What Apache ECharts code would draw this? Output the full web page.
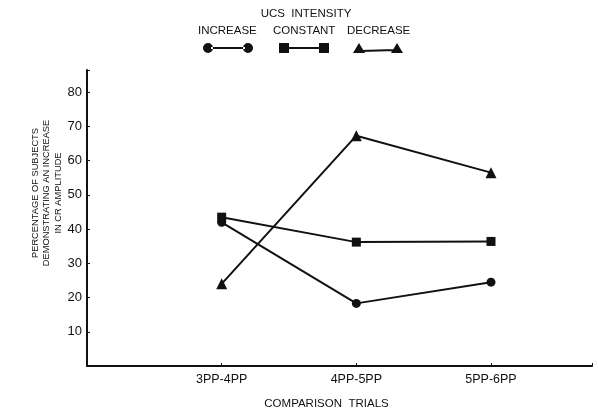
<!DOCTYPE html>
<html>
<head>
<meta charset="utf-8">
<script src="https://cdn.jsdelivr.net/npm/echarts@6/dist/echarts.min.js"></script>
<style>
html,body{margin:0;padding:0;background:#fff}
#main{width:598px;height:411px}
</style>
</head>
<body>
<div id="main"></div>
<script>
// categories and values
var trials = ['3PP-4PP', '4PP-5PP', '5PP-6PP'];
var seriesNames = ['INCREASE', 'CONSTANT', 'DECREASE'];
var increase = [42, 18.3, 24.5];
var constant = [43.5, 36.2, 36.4];
var decrease = [24, 67.3, 56.5];
var yTicks = [10, 20, 30, 40, 50, 60, 70, 80];

var font = 'Liberation Sans';
var ink = '#111';

// icon shapes: symbol - line - symbol
var icons = [
    'path://M0,5a5,5 0 1,0 10,0a5,5 0 1,0 -10,0ZM40,5a5,5 0 1,0 10,0a5,5 0 1,0 -10,0ZM8,4L42,4L42,6L8,6Z',
    'path://M0,0L10,0L10,10L0,10ZM40,0L50,0L50,10L40,10ZM10,4L40,4L40,6L10,6Z',
    'path://M0,10L6,0L12,10ZM38,10L44,0L50,10ZM8,7L42,6L42,8L8,9Z'
];
var symbols = ['circle', 'rect', 'triangle'];
var symbolSizes = [9, 9, 11];
var legendLeft = [203, 279, 353];
var labelLeft = [198, 273, 347];

//把序号当作x坐标
function toPoints(vals){
    var arr = [];
    vals.forEach(function(v, i){
        arr.push([i + 1, v]);
    });
    return arr;
}

var allData = [increase, constant, decrease];

var legends = [];
var series = [];
var labels = [];
seriesNames.forEach(function(name, i){
    legends.push({
        data: [{name: name, icon: icons[i]}],
        left: legendLeft[i],
        top: 43,
        padding: 0,
        itemWidth: 50,
        itemHeight: 10,
        selectedMode: false,
        formatter: function(){ return ''; }
    });
    //图例文字放在图标上方
    labels.push({
        type: 'text',
        left: labelLeft[i],
        top: 25,
        style: {text: name, font: '11.5px "Liberation Sans"', fill: ink}
    });
    series.push({
        name: name,
        type: 'line',
        data: toPoints(allData[i]),
        symbol: symbols[i],
        symbolSize: symbolSizes[i],
        itemStyle: {color: ink},
        lineStyle: {color: ink, width: 2},
        animation: false
    });
});

var myChart = echarts.init(document.getElementById('main'));

var option = {
    backgroundColor: '#fff',
    animation: false,
    title: {
        text: 'UCS  INTENSITY',
        left: 301,
        textAlign: 'center',
        top: 3,
        textStyle: {fontFamily: font, fontSize: 11.5, fontWeight: 'normal', color: ink}
    },
    legend: legends,
    graphic: labels,
    grid: {left: 87, right: 6, top: 70, bottom: 45, containLabel: false, outerBoundsMode: 'none'},
    xAxis: {
        type: 'value',
        min: 0,
        max: 3.75,
        interval: 1,
        name: 'COMPARISON  TRIALS',
        nameLocation: 'middle',
        nameGap: 32,
        nameMoveOverlap: false,
        nameTextStyle: {fontFamily: font, fontSize: 11.5, color: ink, padding: [0, 26, 0, 0]},
        splitLine: {show: false},
        axisLine: {lineStyle: {color: ink, width: 2}},
        axisTick: {inside: true, length: 3, lineStyle: {color: ink}},
        axisLabel: {
            fontFamily: font, fontSize: 12.5, color: ink, margin: 7,
            formatter: function(v){
                return trials[v - 1] || '';
            }
        }
    },
    yAxis: {
        type: 'value',
        min: 0,
        max: 86.5,
        interval: 10,
        name: 'PERCENTAGE OF SUBJECTS\nDEMONSTRATING AN INCREASE\nIN CR AMPLITUDE',
        nameLocation: 'middle',
        nameRotate: 90,
        nameGap: 23,
        nameMoveOverlap: false,
        nameTextStyle: {fontFamily: font, fontSize: 9.3, lineHeight: 11.5, color: ink, padding: [0, 0, 0, 50]},
        splitLine: {show: false},
        axisLine: {show: true, lineStyle: {color: ink, width: 2}},
        axisTick: {inside: true, length: 3, lineStyle: {color: ink}},
        axisLabel: {
            fontFamily: font, fontSize: 13, color: ink, margin: 5,
            formatter: function(v){
                return yTicks.indexOf(v) >= 0 ? String(v) : '';
            }
        }
    },
    series: series
};

myChart.setOption(option);
</script>
</body>
</html>
